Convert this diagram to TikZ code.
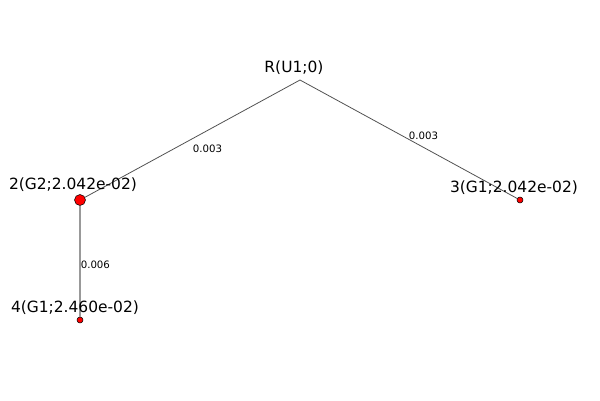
\documentclass[tikz,border=0pt]{standalone}
\usepackage{fontspec}
\setmainfont{DejaVu Sans}
\usetikzlibrary{calc}
\tikzset{
	leaf/.style={circle, draw=black, line width=0.3pt, fill=red, inner sep=0pt, minimum size=0.12cm},
	bigleaf/.style={leaf, minimum size=0.22cm},
	lab/.style={font=\fontsize{8.8}{10}\selectfont, inner sep=0pt},
	elab/.style={font=\fontsize{5.8}{7}\selectfont, inner sep=0pt, anchor=west},
	branch/.style={draw=black!68, line width=0.45pt},
	stem/.style={draw=black!40, line width=0.9pt}
}
\begin{document}
\begin{tikzpicture}[x=0.02cm, y=-0.02cm]
	\useasboundingbox (0, 0) rectangle (600, 400);
	% Paths, nodes and wires:
	\coordinate (nR) at (300, 80);
	\node[bigleaf] (n2) at (80, 200){};
	\node[leaf] (n3) at (520, 200){};
	\node[leaf] (n4) at (80, 320){};
	\draw[branch] (nR) -- (n2) node[elab, pos=0.5, yshift=-0.2cm]{0.003};
	\draw[branch] (nR) -- (n3) node[elab, pos=0.5, yshift=0.06cm]{0.003};
	\draw[stem] (n2) -- (n4) node[elab, pos=0.5, yshift=-0.08cm]{0.006};
	\node[lab] (lR) at (294, 68){R(U1;0)};
	\node[lab] (l2) at (73, 185){2(G2;2.042e-02)};
	\node[lab] (l3) at (514, 188){3(G1;2.042e-02)};
	\node[lab] (l4) at (75, 308){4(G1;2.460e-02)};
\end{tikzpicture}
\end{document}
